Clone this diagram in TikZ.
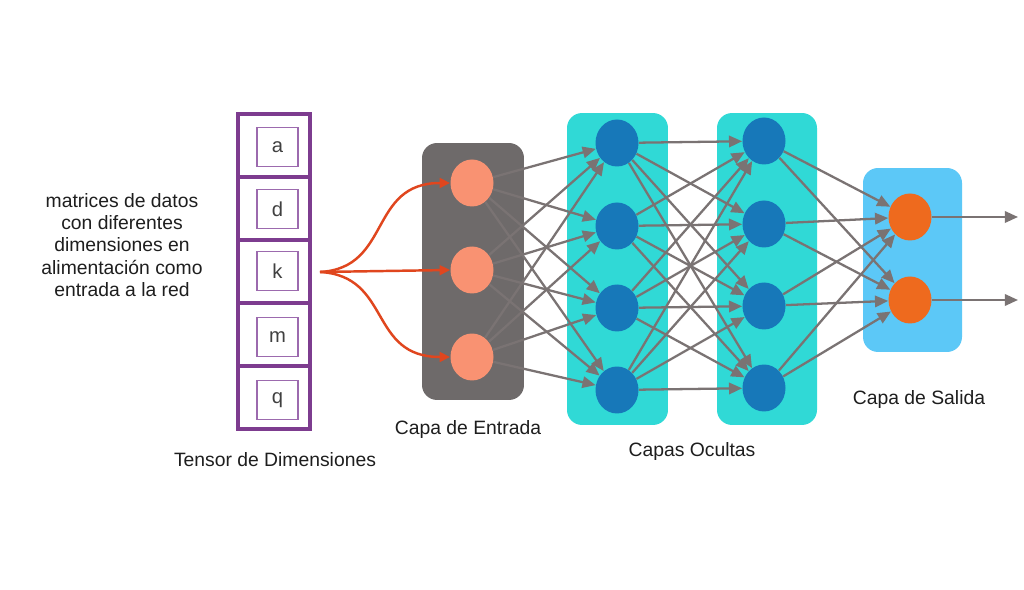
\documentclass[tikz,border=0pt]{standalone}
\usepackage{fontspec}
\setmainfont{Liberation Sans}
\usetikzlibrary{shapes.geometric,arrows.meta}
\definecolor{tpurple}{HTML}{7D3C8F}
\definecolor{tpurplelight}{HTML}{9C6AAE}
\definecolor{inbox}{HTML}{6E6A6A}
\definecolor{salmon}{HTML}{F99272}
\definecolor{hidbox}{HTML}{30D9D6}
\definecolor{dblue}{HTML}{1778B9}
\definecolor{outbox}{HTML}{5CC8F7}
\definecolor{onode}{HTML}{EE6A1E}
\definecolor{cgray}{HTML}{7A7373}
\definecolor{cred}{HTML}{E0461E}
\definecolor{txt}{HTML}{1E1E1E}
\begin{document}
\begin{tikzpicture}[x=0.02cm,y=-0.02cm,
  lbl/.style={font=\fontsize{11}{12.75}\selectfont, text=txt, align=center, inner sep=0pt},
  neuron/.style={ellipse, minimum width=0.86cm, minimum height=0.94cm, inner sep=0pt},
  layerbox/.style={rectangle, rounded corners=0.3cm, inner sep=0pt},
  cellbox/.style={draw=tpurple, line width=2.1pt, minimum width=1.44cm, minimum height=1.26cm, inner sep=0pt},
  innerbox/.style={draw=tpurplelight, line width=1.1pt, minimum width=0.82cm, minimum height=0.78cm, inner sep=0pt, text=txt!85, font=\fontsize{11.5}{12}\selectfont},
  conn/.style={draw=cgray, line width=1.3pt, -{Triangle[length=7.5pt,width=6.5pt]}},
  feed/.style={draw=cred, line width=1.4pt, -{Triangle[length=6pt,width=5.5pt]}}
]
\useasboundingbox (0,0) rectangle (1024,590);
\fill[white] (0,0) rectangle (1024,590);

% left text
\node[lbl] (desc) at (122,245) {matrices de datos\\con diferentes\\dimensiones en\\alimentación como\\entrada a la red};

% tensor
\foreach \i/\y in {1/145.5,2/208.5,3/271.5,4/334.5,5/397.5}{
  \node[cellbox] (cell\i) at (274,\y) {};
}
\node[innerbox] (ia) at (277.5,147) {a};
\node[innerbox] (id) at (277.5,209) {d};
\node[innerbox] (ik) at (277.5,271) {k};
\node[innerbox] (im) at (277.5,337) {m};
\node[innerbox] (iq) at (277.5,400) {q};
\node[lbl] (tlabel) at (275,460) {Tensor de Dimensiones};

% layer boxes
\node[layerbox, fill=inbox, minimum width=2.04cm, minimum height=5.14cm] (inL) at (473,271.5) {};
\node[layerbox, fill=hidbox, minimum width=2.02cm, minimum height=6.24cm] (h1L) at (617.5,269) {};
\node[layerbox, fill=hidbox, minimum width=2.0cm, minimum height=6.24cm] (h2L) at (767,269) {};
\node[layerbox, fill=outbox, minimum width=1.98cm, minimum height=3.68cm] (outL) at (912.5,260) {};

% neurons
\foreach \i/\y in {1/183,2/270,3/357}{
  \node[neuron, fill=salmon] (in\i) at (472,\y) {};
}
\foreach \i/\y in {1/143,2/226,3/308,4/390}{
  \node[neuron, fill=dblue] (ha\i) at (617,\y) {};
}
\foreach \i/\y in {1/141,2/224,3/306,4/388}{
  \node[neuron, fill=dblue] (hb\i) at (764,\y) {};
}
\foreach \i/\y in {1/217,2/300}{
  \node[neuron, fill=onode] (o\i) at (910,\y) {};
}

% connections
\foreach \a in {1,2,3}{\foreach \b in {1,2,3,4}{\draw[conn] (in\a) -- (ha\b);}}
\foreach \a in {1,2,3,4}{\foreach \b in {1,2,3,4}{\draw[conn] (ha\a) -- (hb\b);}}
\foreach \a in {1,2,3,4}{\foreach \b in {1,2}{\draw[conn] (hb\a) -- (o\b);}}
\coordinate (out1) at (1018,217);
\coordinate (out2) at (1018,300);
\draw[conn] (o1) -- (out1);
\draw[conn] (o2) -- (out2);

% feed arrows
\coordinate (src) at (320,272);
\draw[feed] (src) .. controls (392,268) and (368,183) .. (in1.west);
\draw[feed] (src) -- (in2.west);
\draw[feed] (src) .. controls (392,276) and (368,357) .. (in3.west);

% labels
\node[lbl] (lin) at (468,430) {Capa de Entrada};
\node[lbl] (lhid) at (692,452) {Capas Ocultas};
\node[lbl] (lout) at (919,400) {Capa de Salida};
\end{tikzpicture}
\end{document}
